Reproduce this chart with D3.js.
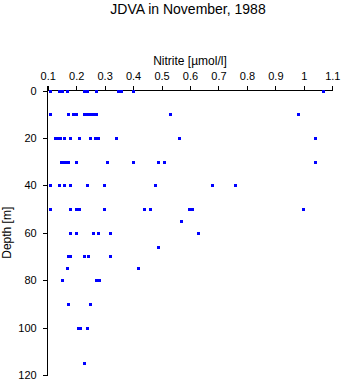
<!DOCTYPE html>
<html>
<head>
<meta charset="utf-8">
<script src="https://cdn.jsdelivr.net/npm/d3@7.9.0/dist/d3.min.js"></script>
<style>
  body { margin: 0; background: #fff; }
  svg { font-family: "Liberation Sans", Arial, sans-serif; }
  .axis path, .axis line { stroke: #000; shape-rendering: crispEdges; }
</style>
</head>
<body>
<svg id="chart" width="343" height="384"></svg>
<script>
// sampling depths [m] and nitrite readings [µmol/l] at each depth
const depthLevels = [0, 10, 20, 30, 40, 50, 55, 60, 66, 70, 75, 80, 90, 100, 115];
const nitrite0 = [0.109, 0.140, 0.149, 0.169, 0.226, 0.238, 0.270, 0.348, 0.358, 0.401, 1.068];
const nitrite10 = [0.109, 0.170, 0.190, 0.199, 0.228, 0.238, 0.249, 0.259, 0.270, 0.530, 0.978];
const nitrite20 = [0.127, 0.135, 0.143, 0.158, 0.179, 0.209, 0.250, 0.267, 0.277, 0.339, 0.560, 1.039];
const nitrite30 = [0.146, 0.155, 0.164, 0.172, 0.200, 0.309, 0.401, 0.489, 0.510, 1.040];
const nitrite40 = [0.109, 0.140, 0.158, 0.179, 0.239, 0.299, 0.478, 0.678, 0.759];
const nitrite50 = [0.109, 0.179, 0.199, 0.210, 0.299, 0.439, 0.461, 0.596, 0.608, 0.998];
const nitrite55 = [0.569];
const nitrite60 = [0.179, 0.200, 0.260, 0.278, 0.320, 0.629];
const nitrite66 = [0.489];
const nitrite70 = [0.170, 0.179, 0.229, 0.240, 0.320];
const nitrite75 = [0.169, 0.418];
const nitrite80 = [0.150, 0.269, 0.280];
const nitrite90 = [0.170, 0.249];
const nitrite100 = [0.206, 0.213, 0.239];
const nitrite115 = [0.229];

const nitriteTicks = [0.1, 0.2, 0.3, 0.4, 0.5, 0.6, 0.7, 0.8, 0.9, 1, 1.1];
const depthTicks = [0, 20, 40, 60, 80, 100, 120];

const readings = [nitrite0, nitrite10, nitrite20, nitrite30, nitrite40, nitrite50, nitrite55,
  nitrite60, nitrite66, nitrite70, nitrite75, nitrite80, nitrite90, nitrite100, nitrite115];

const points = [];
depthLevels.forEach((d, i) => {
  readings[i].forEach(v => points.push({ depth: d, value: v }));
});

const svg = d3.select('#chart');

const x = d3.scaleLinear().domain([0.1, 1.1]).range([47.7, 332.3]);
const y = d3.scaleLinear().domain([0, 120]).range([90.5, 375]);

// title
svg.append('text')
  .attr('x', 188)
  .attr('y', 14)
  .attr('text-anchor', 'middle')
  .attr('font-size', 14)
  .text('JDVA in November, 1988');

// top axis
const xAxis = svg.append('g')
  .attr('class', 'axis')
  .call(d3.axisTop(x).tickValues(nitriteTicks).tickFormat(d3.format('')).tickSize(5).tickSizeOuter(0))
  .attr('transform', `translate(0,${y(0)})`);
xAxis.select('.domain').attr('d', `M${x(0.1)},0H${x(1.1)}`);
xAxis.selectAll('text').attr('font-size', 11).attr('fill', '#000').attr('dy', '-0.25em')
  .attr('font-family', '"Liberation Sans", Arial, sans-serif');

svg.append('text')
  .attr('x', 190)
  .attr('y', 65)
  .attr('text-anchor', 'middle')
  .attr('font-size', 12)
  .text('Nitrite [µmol/l]');

// left axis
const yAxis = svg.append('g')
  .attr('class', 'axis')
  .attr('transform', `translate(${x(0.1)},0)`)
  .call(d3.axisLeft(y).tickValues(depthTicks).tickSize(5).tickSizeOuter(0).tickPadding(6));
yAxis.select('.domain').attr('d', `M0,${y(0) - 5}V${y(120)}`);
yAxis.selectAll('text').attr('font-size', 11).attr('fill', '#000')
  .attr('font-family', '"Liberation Sans", Arial, sans-serif');

svg.append('text')
  .attr('transform', `translate(11,${(y(0) + y(120)) / 2}) rotate(-90)`)
  .attr('text-anchor', 'middle')
  .attr('font-size', 12)
  .text('Depth [m]');

// markers
svg.append('g')
  .selectAll('rect')
  .data(points)
  .join('rect')
  .attr('x', d => Math.round(x(d.value)) - 1.5)
  .attr('y', d => Math.round(y(d.depth)) - 1.5)
  .attr('width', 3)
  .attr('height', 3)
  .attr('fill', '#0000ff')
  .attr('shape-rendering', 'crispEdges');
</script>
</body>
</html>
